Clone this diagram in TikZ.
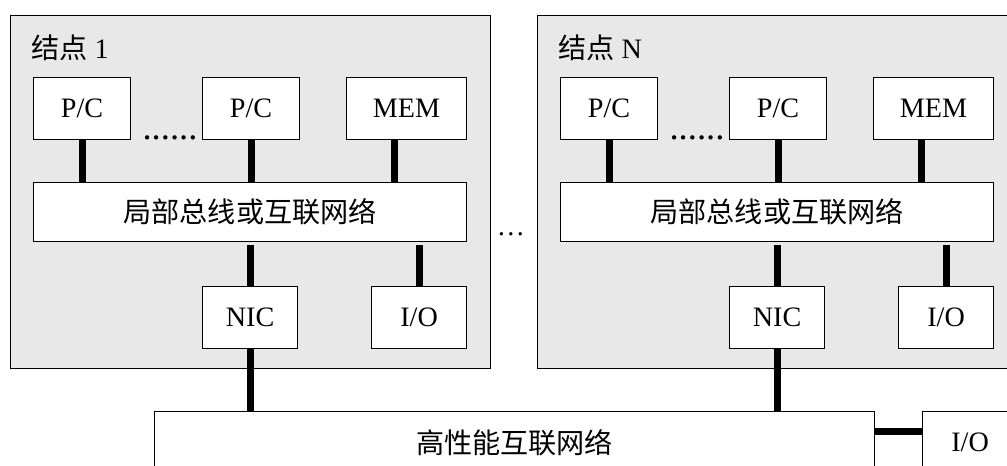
\documentclass[tikz,border=0pt]{standalone}
\usepackage{fontspec}
\setmainfont{Liberation Serif}
\newfontfamily\cjk{Noto Sans CJK SC}
\usepackage{xcolor}
\definecolor{nodegray}{RGB}{232,232,232}
\usepackage{tikz}
\usetikzlibrary{calc}
\newcommand{\widthpc}{2.425cm}
\newcommand{\widthmem}{3cm}
\newcommand{\widthbus}{10.825cm}
\newcommand{\widthdev}{2.375cm}
\tikzset{
    common/.style={anchor=north west, draw, rectangle, line width=0.8pt, fill=white, inner sep=0pt, font=\fontsize{20}{24}\selectfont},
    unit/.style={common, minimum height=1.55cm},
    pc/.style={unit, minimum width=\widthpc},
    mem/.style={unit, minimum width=\widthmem},
    dev/.style={unit, minimum width=\widthdev},
    bus/.style={common, minimum width=\widthbus, minimum height=1.475cm},
    cluster/.style={common, fill=nodegray, minimum width=12cm, minimum height=8.825cm},
    title/.style={anchor=west, inner sep=0pt, font=\fontsize{20}{24}\selectfont},
    ellip/.style={anchor=base, inner sep=0pt, font=\fontsize{26}{30}\selectfont},
    link/.style={line width=5pt},
}

\begin{document}
\begin{tikzpicture}[x=0.025cm, y=-0.025cm]

      \path[use as bounding box, clip] (0,0) rectangle (1007,466);

      \newcommand\computenode[3]{
        \path
          #2 node[cluster] (#1) {}
          +(21,33) node[title] (#1-title) {{\cjk 结点} #3}
          +(23,62) node[pc] (#1-pc1) {P/C}
          +(192,62) node[pc] (#1-pc2) {P/C}
          +(336,62) node[mem] (#1-mem) {MEM}
          +(160,125) node[ellip] (#1-dots) {......}
          +(23,167) node[bus] (#1-bus) {\cjk 局部总线或互联网络}
          +(192,271) node[dev] (#1-nic) {NIC}
          +(361,271) node[dev] (#1-io) {I/O};

        \draw[link] (#1-pc1.south) -- (#1-pc1.south |- #1-bus.north);
        \draw[link] (#1-pc2.south) -- (#1-pc2.south |- #1-bus.north);
        \draw[link] ([xshift=-0.3cm]#1-mem.south) -- ([xshift=-0.3cm]#1-mem.south |- #1-bus.north);
        \draw[link, shorten <=0.075cm] (#1-nic.north |- #1-bus.south) -- (#1-nic.north);
        \draw[link, shorten <=0.075cm] (#1-io.north |- #1-bus.south) -- (#1-io.north);
      }

      \computenode{n1}{(10,15)}{1};
      \computenode{nn}{(537,15)}{N};

      \path (511,235) node[title, anchor=base] (gap) {…};

      \path
          (154,411) node[unit, minimum width=18cm] (hpnet) {\cjk 高性能互联网络}
          (922,411) node[dev] (hp-io) {I/O};

      \draw[link] (n1-nic.south) -- (n1-nic.south |- hpnet.north);
      \draw[link] (nn-nic.south) -- (nn-nic.south |- hpnet.north);
      \draw[link] ([yshift=0.275cm]hpnet.east) -- ([yshift=0.275cm]hpnet.east -| hp-io.west);
    \end{tikzpicture}
\end{document}
